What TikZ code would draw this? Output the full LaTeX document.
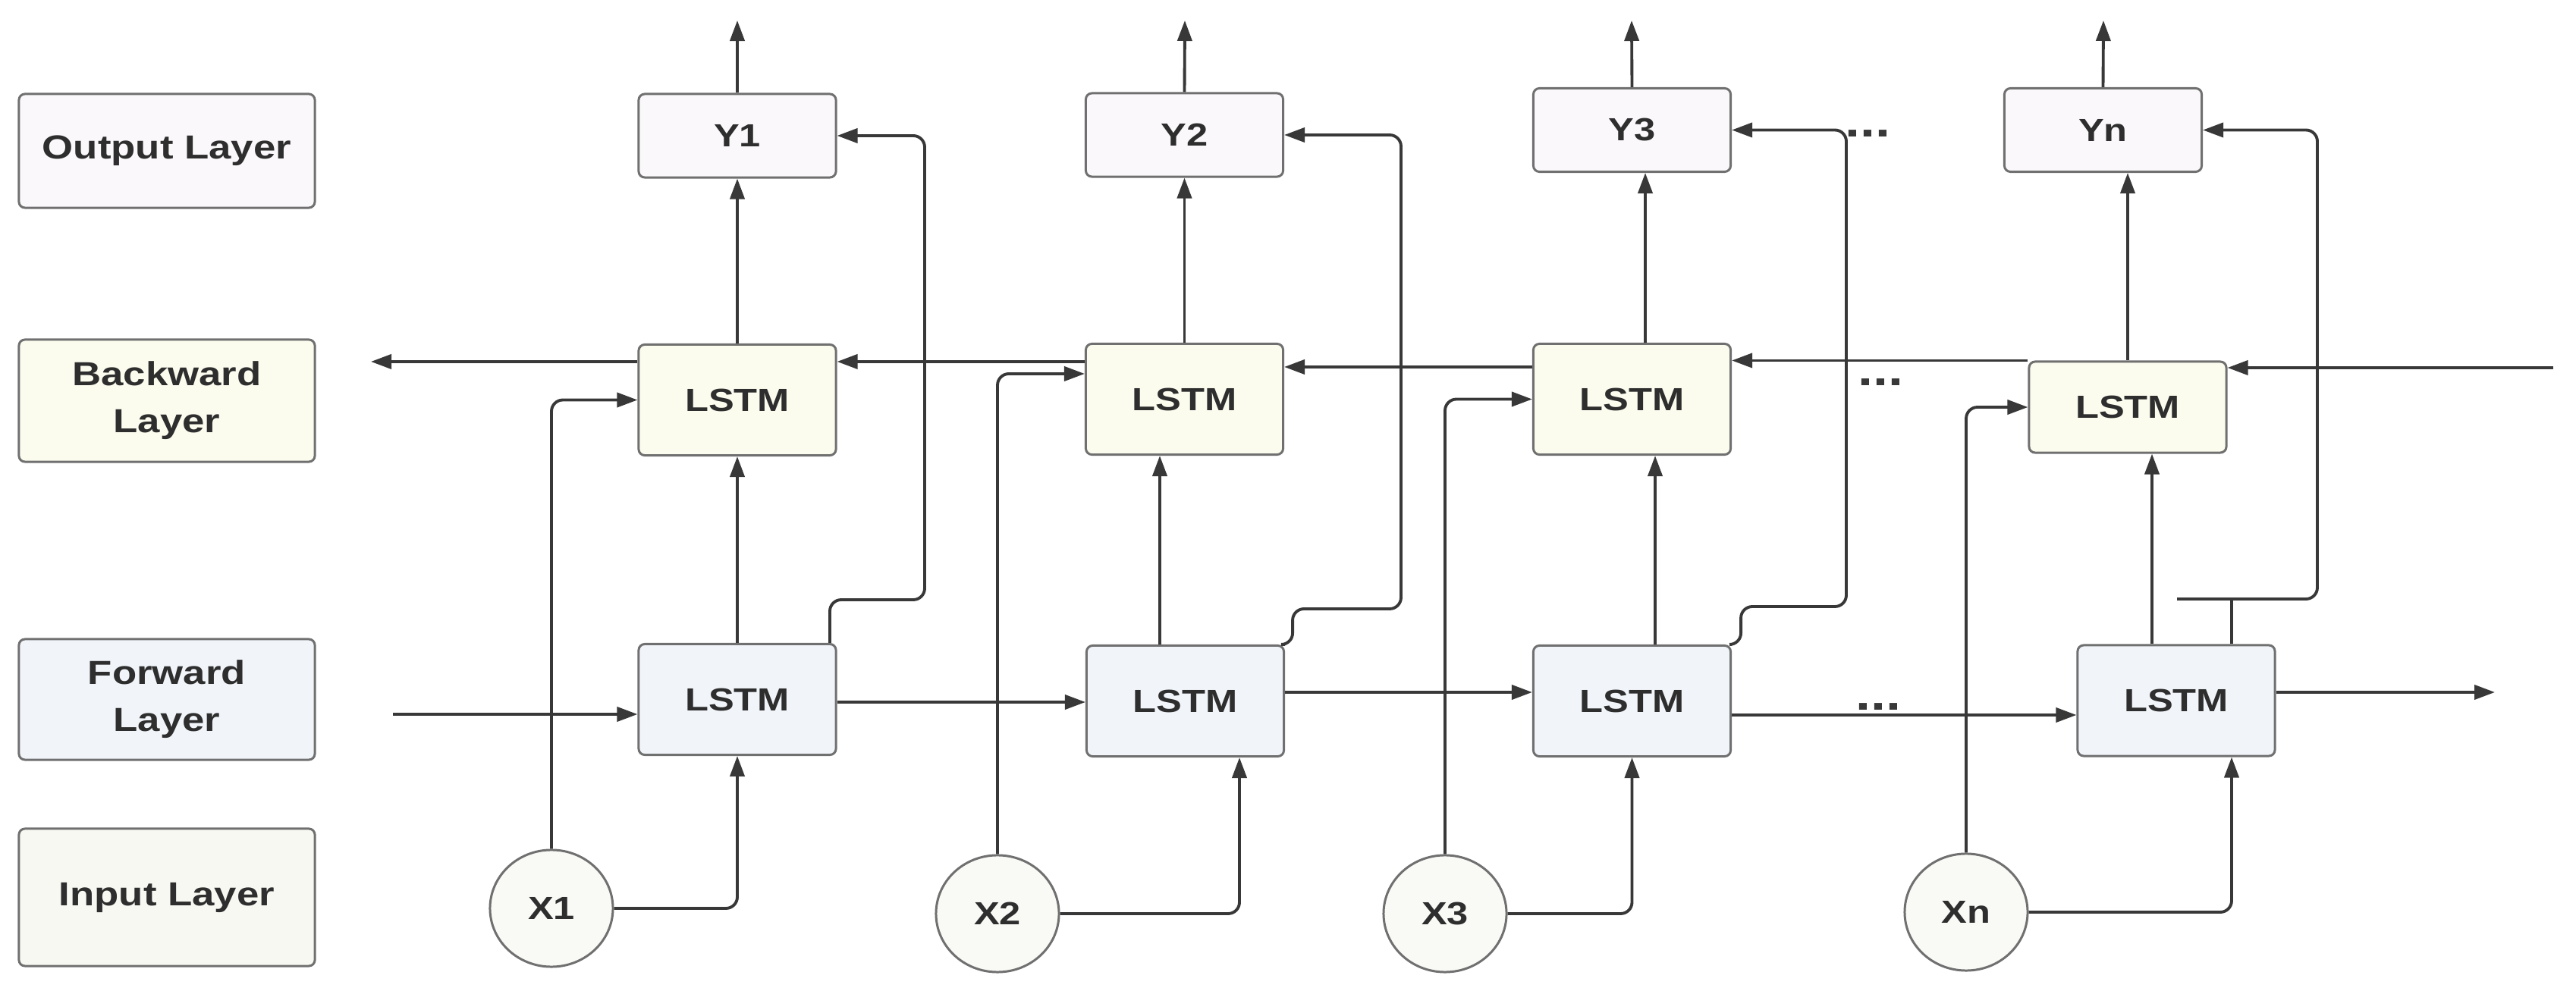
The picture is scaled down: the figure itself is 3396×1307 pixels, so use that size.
\documentclass[tikz,border=0pt]{standalone}
\usepackage{fontspec}
\setmainfont{Liberation Sans}[FakeStretch=1.2]
\usetikzlibrary{arrows.meta,shapes.geometric}
\definecolor{bordc}{HTML}{707070}
\definecolor{linec}{HTML}{383838}
\definecolor{txtc}{HTML}{2E2E2E}
\definecolor{outfill}{HTML}{FAF8FA}
\definecolor{bwdfill}{HTML}{FBFBEE}
\definecolor{fwdfill}{HTML}{F1F5FA}
\definecolor{infill}{HTML}{F6F8F1}
\definecolor{xfill}{HTML}{F9F9F5}
\begin{document}
\begin{tikzpicture}[x=0.01cm,y=-0.01cm,
 box/.style={draw=bordc,line width=0.85pt,rounded corners=0.08cm,text=txtc,font=\fontsize{12}{14}\selectfont\bfseries,minimum width=2.6cm,inner sep=0pt},
 lab/.style={box,minimum width=3.9cm,align=center,font=\fontsize{12.5}{17.6}\selectfont\bfseries},
 ybox/.style={box,fill=outfill,minimum height=1.1cm},
 bbox/.style={box,fill=bwdfill,minimum height=1.46cm},
 fbox/.style={box,fill=fwdfill,minimum height=1.46cm},
 xnode/.style={ellipse,draw=bordc,line width=0.85pt,fill=xfill,minimum width=1.62cm,minimum height=1.54cm,inner sep=0pt,text=txtc,font=\fontsize{12}{14}\selectfont\bfseries},
 ln/.style={draw=linec,line width=1.1pt,rounded corners=0.15cm},
 arr/.style={ln,-{Triangle[length=0.27cm,width=0.19cm]}},
 dots/.style={text=linec,inner sep=0pt,font=\fontsize{17}{17}\selectfont\bfseries}
]
\fill[white] (0,0) rectangle (3396,1307);
\useasboundingbox (0,0) rectangle (3396,1307);

% layer labels
\node[lab,fill=outfill,minimum height=1.5cm] (outL) at (220,199) {Output Layer};
\node[lab,fill=bwdfill,minimum height=1.61cm] (bwdL) at (220,528.5) {Backward\\Layer};
\node[lab,fill=fwdfill,minimum height=1.59cm] (fwdL) at (220,922.5) {Forward\\Layer};
\node[lab,fill=infill,minimum height=1.81cm] (inL) at (220,1183.5) {Input Layer};

% column 1
\node[ybox] (Y1) at (972,179) {Y1};
\node[bbox] (B1) at (972,527.5) {LSTM};
\node[fbox] (F1) at (972,922.5) {LSTM};
\node[xnode] (X1) at (727,1198) {X1};
% column 2
\node[ybox] (Y2) at (1561.5,178) {Y2};
\node[bbox] (B2) at (1561.5,526.5) {LSTM};
\node[fbox] (F2) at (1562.5,924.5) {LSTM};
\node[xnode] (X2) at (1315,1205) {X2};
% column 3
\node[ybox] (Y3) at (2151.5,171.5) {Y3};
\node[bbox] (B3) at (2151.5,526.5) {LSTM};
\node[fbox] (F3) at (2151.5,924.5) {LSTM};
\node[xnode] (X3) at (1905,1205) {X3};
% column n
\node[ybox] (Yn) at (2772.5,171.5) {Yn};
\node[bbox,minimum height=1.2cm] (Bn) at (2805,537) {LSTM};
\node[fbox] (Fn) at (2869,924) {LSTM};
\node[xnode] (Xn) at (2592,1203) {Xn};

% helper coordinates
\coordinate (T1) at (972,27);
\coordinate (T2) at (1562,27);
\coordinate (T3) at (2151,27);
\coordinate (Tn) at (2773,27);
\coordinate (c3) at (2169,0);
\coordinate (v2) at (1529,0);
\coordinate (v3) at (2182,0);
\coordinate (vn) at (2837,0);
\coordinate (h2) at (1634,0);
\coordinate (hn) at (2942,0);
\coordinate (fin) at (518,942);
\coordinate (fout) at (3289,0);
\coordinate (bin) at (3366,485);
\coordinate (bout) at (489,0);
\coordinate (f1s) at (1094,0);
\coordinate (k1) at (1219,791);
\coordinate (k2) at (1847,803);
\coordinate (k3) at (2434,800);
\coordinate (kn) at (2870,790);
\coordinate (kn2) at (3055,790);

% outputs upward
\draw[arr] (Y1.north) -- (T1);
\draw[arr] (Y2.north) -- (T2);
\draw[arr] (Y3.north) -- (T3);
\draw[arr] (Yn.north) -- (Tn);

% backward -> Y
\draw[arr] (B1.north) -- (Y1.south);
\draw[arr] (B2.north) -- (B2.north |- Y2.south);
\draw[arr] (B3.north -| c3) -- (Y3.south -| c3);
\draw[arr] (Bn.north) -- (Bn.north |- Yn.south);

% forward -> backward
\draw[arr] (F1.north) -- (B1.south);
\draw[arr] (F2.north -| v2) -- (B2.south -| v2);
\draw[arr] (F3.north -| v3) -- (B3.south -| v3);
\draw[arr] (Fn.north -| vn) -- (Bn.south -| vn);

% inputs -> backward
\draw[arr] (X1.north) |- (B1.west);
\draw[arr] (X2.north) |- ([yshift=0.335cm]B2.west);
\draw[arr] (X3.north) |- (B3.west);
\draw[arr] (Xn.north) |- (Bn.west);

% inputs -> forward
\draw[arr] (X1.east) -| (F1.south);
\draw[arr] (X2.east) -| (F2.south -| h2);
\draw[arr] (X3.east) -| (F3.south);
\draw[arr] (Xn.east) -| (Fn.south -| hn);

% forward chain
\coordinate (a12) at ([yshift=-0.035cm]F1.east);
\coordinate (a23) at ([yshift=0.115cm]F2.east);
\coordinate (a3n) at ([yshift=-0.185cm]F3.east);
\coordinate (ano) at ([yshift=0.11cm]Fn.east);
\draw[arr] (fin) -- (fin -| F1.west);
\draw[arr] (a12) -- (a12 -| F2.west);
\draw[arr] (a23) -- (a23 -| F3.west);
\draw[arr] (a3n) -- (a3n -| Fn.west);
\draw[arr] (ano) -- (ano -| fout);

% backward chain
\coordinate (b32) at ([yshift=0.425cm]B3.west);
\coordinate (b21) at ([yshift=0.495cm]B2.west);
\coordinate (b1o) at ([yshift=0.505cm]B1.west);
\draw[arr] (bin) -- (bin -| Bn.east);
\draw[arr] (Bn.north west) -- (Bn.north west -| B3.east);
\draw[arr] (b32) -- (b32 -| B2.east);
\draw[arr] (b21) -- (b21 -| B1.east);
\draw[arr] (b1o) -- (b1o -| bout);

% forward -> output feeds
\draw[arr] (F1.north -| f1s) |- (k1) |- (Y1.east);
\draw[arr] (F2.north east) -- ++(10,0) |- (k2) |- (Y2.east);
\draw[arr] (F3.north east) -- ++(12,0) |- (k3) |- (Y3.east);
\draw[ln] (Fn.north -| hn) -- (hn |- kn);
\draw[arr] (kn) -- (kn2) |- (Yn.east);

% ellipses
\node[dots] (d1) at (2476,932) {...};
\node[dots] (d2) at (2479,504) {...};
\node[dots] (d3) at (2462,176) {...};
\end{tikzpicture}
\end{document}
